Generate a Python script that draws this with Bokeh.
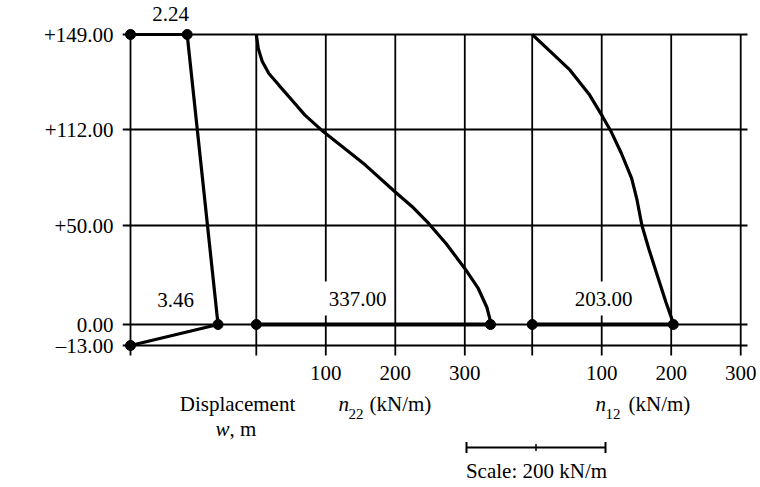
import numpy as np
from bokeh.plotting import figure
from bokeh.models import Range1d, FixedTicker, Label
from bokeh.embed import file_html
from bokeh.resources import INLINE
from bokeh.core.properties import value

# ---------------- data ----------------
height_levels = [-13.0, 0.0, 50.0, 112.0, 149.0]
height_labels = ["\u201313.00", "0.00", "+50.00", "+112.00", "+149.00"]

disp_w = [0.0, 2.24, 3.46, 0.0]          # displacement w, m
disp_h = [149.0, 149.0, 0.0, -13.0]      # height above truss, m

n22_val = [0, 2.9, 8.6, 18.1, 32.4, 51.4, 70, 96.7, 123.5, 157, 199.5, 224, 248,
           273, 300, 319.4, 331.7, 336, 337]
n22_h = [149, 143.5, 138.5, 133.8, 129.3, 123.4, 117.6, 110.5, 101, 89, 71.8, 62.3,
         51.3, 40.9, 28.3, 18.2, 8.7, 3.0, 0]

n12_val = [0, 26.3, 54.5, 82.7, 101.5, 113.7, 128.4, 143.1, 150.4, 157.8, 167.6,
           179.9, 192.2, 202, 203]
n12_h = [149, 142.3, 135.1, 125.4, 116.9, 110.5, 96.5, 80.4, 67.4, 50.2, 38.4,
         24.9, 11.5, 1.7, 0]

force_ticks = [100, 200, 300]
force_tick_labels = ["100", "200", "300"]
scale_bar_kn = 200

# ---------------- layout constants ----------------
PX = 0.695                 # page px per kN/m
W_SCALE = 25.3 / PX        # kN/m-units per metre of displacement
X22 = 181                  # origin of n22 panel
X12 = 578                  # origin of n12 panel
level_pos = [-21, 0, 99, 195, 290]   # schematic (non-linear) height axis
FONT = "Liberation Serif"
FS = "21px"
W, H = 760, 487
FRAME_LEFT = 122


def ypos(h):
    return np.interp(np.asarray(h, dtype=float), height_levels, level_pos)


def px_x(page_x):
    return (page_x - 130) / PX


def px_y(page_y):
    return 324 - page_y


p = figure(width=W, height=H, output_backend="svg", toolbar_location=None,
           x_range=Range1d(px_x(FRAME_LEFT), px_x(W)),
           y_range=Range1d(px_y(H), px_y(0)),
           x_axis_location=None,
           min_border_left=FRAME_LEFT, min_border_right=0,
           min_border_top=0, min_border_bottom=0)
p.outline_line_color = None
p.background_fill_color = "white"
p.border_fill_color = "white"
p.xgrid.visible = False
p.ygrid.visible = False

# left axis with height labels
p.yaxis.ticker = FixedTicker(ticks=level_pos)
p.yaxis.major_label_overrides = {pos: lab for pos, lab in zip(level_pos, height_labels)}
p.yaxis.axis_line_color = None
p.yaxis.major_tick_line_color = None
p.yaxis.minor_tick_line_color = None
p.yaxis.major_tick_out = 0
p.yaxis.major_tick_in = 0
p.yaxis.major_label_standoff = 9
p.yaxis.major_label_text_font = FONT
p.yaxis.major_label_text_font_size = FS
p.yaxis.major_label_text_color = "black"

# horizontal lines at the height levels
hy = list(level_pos)
p.segment(x0=[px_x(122)] * len(hy), y0=hy, x1=[px_x(747)] * len(hy), y1=hy,
          line_color="black", line_width=1.8)

# vertical lines: panel boundaries + force grid
vx = [0, X22] + [X22 + t for t in force_ticks] + [X12] + [X12 + t for t in force_ticks]
y_low = px_y(355)
p.segment(x0=vx, y0=[y_low] * len(vx), x1=vx, y1=[ypos(149.0)] * len(vx),
          line_color="black", line_width=1.8)

# displacement profile
dx = np.array(disp_w) * W_SCALE
dy = ypos(disp_h)
p.line(dx, dy, line_color="black", line_width=3.2)
p.scatter(dx, dy, size=10, color="black")

# n22 profile
x22 = X22 + np.array(n22_val, dtype=float)
y22 = ypos(n22_h)
p.line(x22, y22, line_color="black", line_width=3.2)
p.line([X22, X22 + n22_val[-1]], [ypos(0.0)] * 2, line_color="black", line_width=4)
p.scatter([X22, X22 + n22_val[-1]], [ypos(0.0)] * 2, size=10, color="black")

# n12 profile
x12 = X12 + np.array(n12_val, dtype=float)
y12 = ypos(n12_h)
p.line(x12, y12, line_color="black", line_width=3.2)
p.line([X12, X12 + n12_val[-1]], [ypos(0.0)] * 2, line_color="black", line_width=4)
p.scatter([X12, X12 + n12_val[-1]], [ypos(0.0)] * 2, size=10, color="black")

# force tick labels
tx = [X22 + t for t in force_ticks] + [X12 + t for t in force_ticks]
p.text(x=tx, y=[px_y(372)] * len(tx), text=force_tick_labels * 2,
       text_font=value(FONT), text_font_size=value(FS), text_color="black",
       text_align="center", text_baseline="middle")


def lab(text, page_x, page_y, align="center", size=FS, style="normal", bg=None, angle=0.0):
    kw = {}
    if bg is not None:
        kw = dict(background_fill_color=bg, background_fill_alpha=1.0,
                  padding=dict(left=7, right=7, top=10, bottom=10))
    p.add_layout(Label(x=px_x(page_x), y=px_y(page_y), text=text,
                       text_font=FONT, text_font_size=size, text_font_style=style,
                       text_color="black", text_align=align, text_baseline="middle",
                       angle=angle, **kw))


lab(f"{disp_w[1]:.2f}", 170, 13)
lab(f"{disp_w[2]:.2f}", 175, 299)
lab(f"{n22_val[-1]:.2f}", 357, 298, bg="white")
lab(f"{n12_val[-1]:.2f}", 603, 298, bg="white")

lab("Height above truss, m", 18, 190, angle=np.pi / 2)

lab("Displacement", 237, 403)
lab("w", 215, 428, align="left", style="italic")
lab(", m", 229, 428, align="left")

lab("n", 338, 403, align="left", style="italic")
lab("22", 348, 413, align="left", size="15px")
lab("(kN/m)", 369, 403, align="left")

lab("n", 595, 403, align="left", style="italic")
lab("12", 605, 413, align="left", size="15px")
lab("(kN/m)", 628, 403, align="left")

# scale bar
sb0 = px_x(466)
sb_y = px_y(447)
p.line([sb0, sb0 + scale_bar_kn], [sb_y, sb_y], line_color="black", line_width=2.2)
p.segment(x0=[sb0, sb0 + scale_bar_kn], y0=[sb_y - 5.5] * 2,
          x1=[sb0, sb0 + scale_bar_kn], y1=[sb_y + 5.5] * 2,
          line_color="black", line_width=2)
p.segment(x0=[sb0 + scale_bar_kn / 2], y0=[sb_y - 3.5], x1=[sb0 + scale_bar_kn / 2],
          y1=[sb_y + 3.5], line_color="black", line_width=1.5)
lab(f"Scale: {scale_bar_kn} kN/m", 536, 470)

open("out.html", "w").write(file_html(p, INLINE))
